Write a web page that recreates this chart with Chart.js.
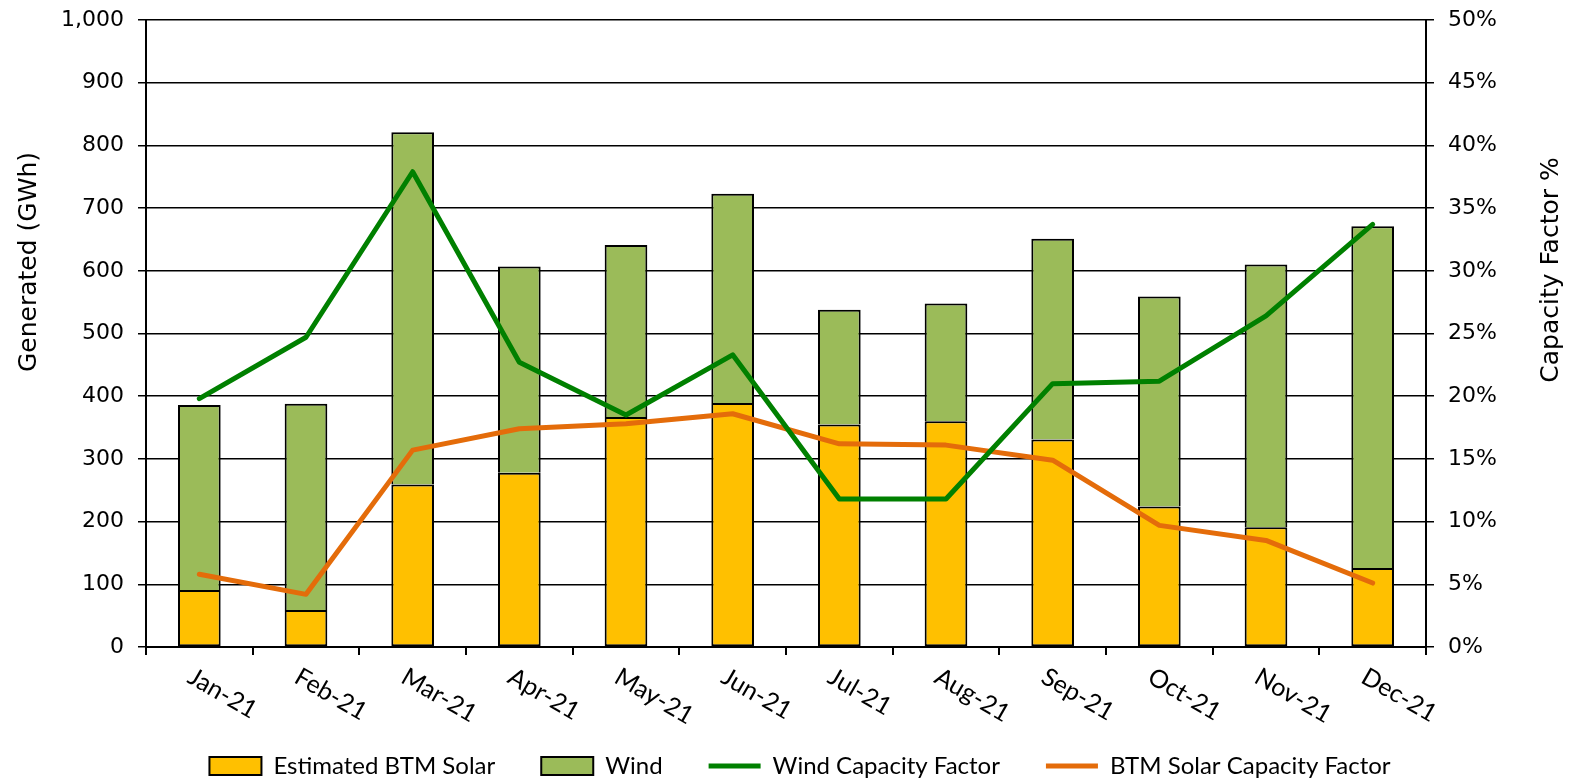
<!DOCTYPE html>
<html lang="en">
<head>
  <meta charset="UTF-8">
  <title>BTM Solar and Wind Generation 2021</title>
  <script src="https://cdn.jsdelivr.net/npm/chart.js"></script>
  <style>
    html, body { margin: 0; padding: 0; background: #fff; }
    canvas { display: block; }
  </style>
</head>
<body>
  <canvas id="genChart" width="1578" height="780"></canvas>

  <script>
    const months = ['Jan-21', 'Feb-21', 'Mar-21', 'Apr-21', 'May-21', 'Jun-21',
                    'Jul-21', 'Aug-21', 'Sep-21', 'Oct-21', 'Nov-21', 'Dec-21'];

    // GWh
    const solarGen = [91, 59, 259, 278, 367, 389, 355, 360, 331, 224, 191, 126];
    const windGen  = [295, 329, 562, 329, 274, 334, 183, 188, 320, 335, 419, 545];

    // capacity factor, %
    const windCF  = [19.8, 24.7, 37.9, 22.7, 18.5, 23.3, 11.8, 11.8, 21.0, 21.2, 26.4, 33.7];
    const solarCF = [5.8, 4.2, 15.7, 17.4, 17.8, 18.6, 16.2, 16.1, 14.9, 9.7, 8.5, 5.1];

    const tickFont = { family: 'DejaVu Sans', size: 22 };
    const labelFont = 'Lato';

    // x labels are rotated clockwise (chart.js can't do that itself),
    // and the axis titles sit a bit above the middle of the plot
    const extraText = {
      id: 'extraText',
      afterDraw(chart) {
        const ctx = chart.ctx;
        const xScale = chart.scales.x;
        ctx.save();
        ctx.fillStyle = '#000';

        ctx.font = '25px ' + labelFont;
        ctx.textAlign = 'left';
        ctx.textBaseline = 'top';
        months.forEach((m, i) => {
          const x = xScale.getPixelForValue(i);
          ctx.save();
          ctx.translate(x - 3, xScale.top + 17);
          ctx.rotate(30 * Math.PI / 180);
          ctx.fillText(m, 0, 0);
          ctx.restore();
        });

        ctx.font = '25px DejaVu Sans';
        ctx.textAlign = 'center';
        ctx.textBaseline = 'middle';
        ctx.save();
        ctx.translate(29, 262);
        ctx.rotate(-Math.PI / 2);
        ctx.fillText('Generated (GWh)', 0, 0);
        ctx.restore();

        ctx.save();
        ctx.translate(1551, 270);
        ctx.rotate(-Math.PI / 2);
        ctx.fillText('Capacity Factor %', 0, 0);
        ctx.restore();

        ctx.restore();
      }
    };

    // keep the plot edges where the reference has them
    function noVertPad(scale) {
      scale.paddingTop = 0;
      scale.paddingBottom = 0;
    }

    const ctx = document.getElementById('genChart').getContext('2d');
    new Chart(ctx, {
      data: {
        labels: months,
        datasets: [
          {
            type: 'bar',
            label: 'Estimated BTM Solar',
            data: solarGen,
            backgroundColor: '#FFC000',
            borderColor: '#000',
            borderWidth: 2,
            borderSkipped: false,
            categoryPercentage: 1,
            barPercentage: 0.4,
            pointStyle: 'rect',
            yAxisID: 'y',
            order: 3
          },
          {
            type: 'bar',
            label: 'Wind',
            data: windGen,
            backgroundColor: '#9BBB59',
            borderColor: '#000',
            borderWidth: 2,
            borderSkipped: 'start',   // solar's top edge already draws this line
            categoryPercentage: 1,
            barPercentage: 0.4,
            pointStyle: 'rect',
            yAxisID: 'y',
            order: 3
          },
          {
            type: 'line',
            label: 'Wind Capacity Factor',
            data: windCF,
            borderColor: '#008000',
            backgroundColor: '#008000',
            borderWidth: 5,
            borderCapStyle: 'round',
            borderJoinStyle: 'round',
            pointRadius: 0,
            pointStyle: 'line',
            tension: 0,
            yAxisID: 'y1',
            order: 1
          },
          {
            type: 'line',
            label: 'BTM Solar Capacity Factor',
            data: solarCF,
            borderColor: '#E46C0A',
            backgroundColor: '#E46C0A',
            borderWidth: 5,
            borderCapStyle: 'round',
            borderJoinStyle: 'round',
            pointRadius: 0,
            pointStyle: 'line',
            tension: 0,
            yAxisID: 'y1',
            order: 2
          }
        ]
      },
      options: {
        responsive: false,
        animation: false,
        devicePixelRatio: 1,
        layout: { padding: { top: 20, left: 22, right: 0, bottom: -8 } },
        plugins: {
          tooltip: { enabled: false },
          legend: {
            position: 'bottom',
            labels: {
              usePointStyle: true,
              pointStyleWidth: 52,
              boxHeight: 18,
              padding: 46,
              color: '#000',
              font: { family: labelFont, size: 24 },
              sort: (a, b) => a.datasetIndex - b.datasetIndex
            }
          }
        },
        scales: {
          x: {
            stacked: true,
            offset: true,
            ticks: { display: false },
            grid: {
              display: true,
              drawOnChartArea: false,
              drawTicks: true,
              tickLength: 8,
              color: '#000',
              lineWidth: 2,
              offset: true
            },
            border: { color: '#000', width: 2 },
            afterFit(scale) { scale.height = 61; }
          },
          y: {
            stacked: true,
            position: 'left',
            min: 0,
            max: 1000,
            ticks: { stepSize: 100, color: '#000', font: tickFont, padding: 14 },
            grid: { color: '#000', lineWidth: 1.5, tickLength: 8 },
            border: { color: '#000', width: 2 },
            afterFit(scale) { scale.width = 124; noVertPad(scale); }
          },
          y1: {
            position: 'right',
            min: 0,
            max: 50,
            ticks: {
              stepSize: 5,
              color: '#000',
              font: tickFont,
              padding: 14,
              callback: v => v + '%'
            },
            grid: { drawOnChartArea: false, color: '#000', lineWidth: 1.5, tickLength: 8 },
            border: { color: '#000', width: 2 },
            afterFit(scale) { scale.width = 152; noVertPad(scale); }
          }
        }
      },
      plugins: [extraText]
    });
  </script>
</body>
</html>
